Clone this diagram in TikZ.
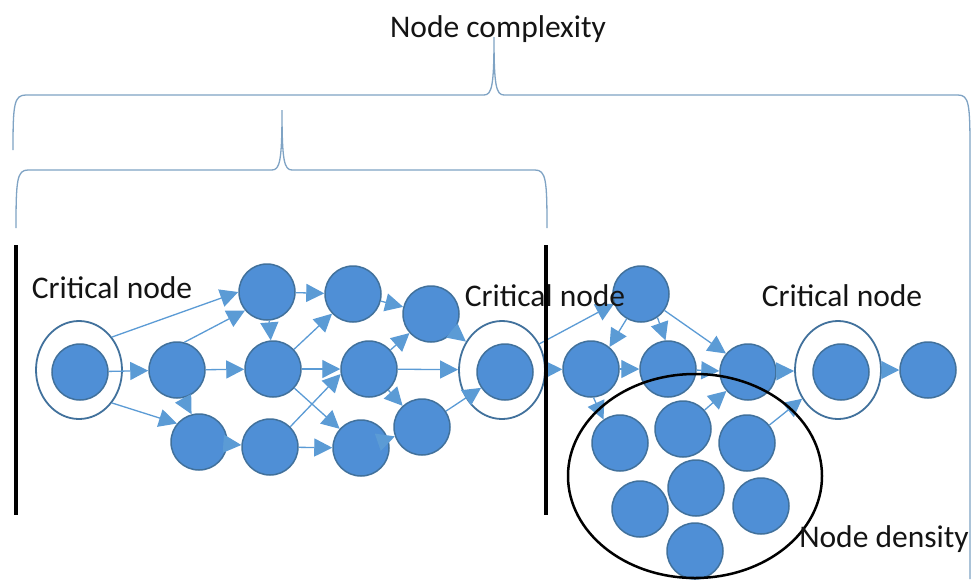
\documentclass[tikz,border=0pt]{standalone}
\usepackage{fontspec}
\setmainfont{Carlito}
\usetikzlibrary{arrows.meta,shapes.geometric}
\definecolor{nodefill}{HTML}{4F8FD6}
\definecolor{nodeedge}{HTML}{41719C}
\definecolor{linkcol}{HTML}{5B9BD5}
\definecolor{bracecol}{HTML}{7FA3C4}
\definecolor{txtcol}{HTML}{141414}

\begin{document}
\begin{tikzpicture}[x=1pt,y=-1pt,
  dot/.style={circle,draw=nodeedge,line width=1.5pt,fill=nodefill,minimum size=56pt,inner sep=0pt},
  ring/.style={ellipse,draw=nodeedge,line width=1.8pt,minimum width=86pt,minimum height=98pt,inner sep=0pt},
  link/.style={draw=linkcol,line width=1.3pt,-{Triangle[length=18pt,width=18pt]}},
  txt/.style={font=\fontsize{31.5}{31.5}\selectfont,anchor=base,text=txtcol,inner sep=0pt},
  brace/.style={draw=bracecol,line width=1.3pt},
  bar/.style={draw=black,line width=4pt}]

\fill[white] (0,0) rectangle (972,579);
\useasboundingbox (0,0) rectangle (972,579);

% braces
\draw[brace] (13,150) .. controls (13,104) and (14,95) .. (26,95)
  -- (484,95) .. controls (492,95) and (494,85) .. (494,37)
  .. controls (494,85) and (496,95) .. (504,95)
  -- (958,95) .. controls (969,95) and (970,104) .. (970,150) -- (970,579);
\draw[brace] (16,228) .. controls (16,180) and (17,170) .. (28,170)
  -- (272,170) .. controls (280,170) and (282,160) .. (282,110)
  .. controls (282,160) and (284,170) .. (292,170)
  -- (535,170) .. controls (546,170) and (547,180) .. (547,228);

% critical rings
\node[ring] (c1r) at (79,370) {};
\node[ring] (c2r) at (502,370) {};
\node[ring] (c3r) at (838,370) {};

% nodes
\node[dot] (c1) at (80,372) {};
\node[dot] (a) at (177,370) {};
\node[dot] (b) at (267,292) {};
\node[dot] (c) at (273,369) {};
\node[dot] (d) at (199,442) {};
\node[dot] (e) at (270,447) {};
\node[dot] (f) at (353,294) {};
\node[dot] (g) at (369,369) {};
\node[dot] (h) at (361,448) {};
\node[dot] (i) at (431,314) {};
\node[dot] (j) at (422,427) {};
\node[dot] (c2) at (505,372) {};
\node[dot] (k) at (591,369) {};
\node[dot] (t) at (641,294) {};
\node[dot] (l) at (668,369) {};
\node[dot] (m) at (748,372) {};
\node[dot] (c3) at (841,372) {};
\node[dot] (n) at (928,370) {};
\node[dot] (d1) at (620,443) {};
\node[dot] (d2) at (683,429) {};
\node[dot] (d3) at (747,443) {};
\node[dot] (d4) at (640,509) {};
\node[dot] (d5) at (696,488) {};
\node[dot] (d6) at (761,506) {};
\node[dot] (d7) at (695,551) {};

% connectors
\draw[link] (c1) -- (a);
\draw[link] (c1r.45) -- (b.west);
\draw[link] (c1r.-45) -- (d.140);
\draw[link] (a.75) -- (b.220);
\draw[link] (a) -- (c);
\draw[link] (a.-78) -- (d.105);
\draw[link] (d) -- (e);
\draw[link] (b) -- (c);
\draw[link] (b) -- (f);
\draw[link] (c) -- (f);
\draw[link] (c) -- (g);
\draw[link] (c) -- (h);
\draw[link] (e.45) -- (g.190);
\draw[link] (e) -- (h);
\draw[link] (f) -- (i);
\draw[link] (g) -- (i);
\draw[link] (g) -- (j);
\draw[link] (g) -- (c2r);
\draw[link] (h) -- (j);
\draw[link] (i) -- (c2r);
\draw[link] (j) -- (c2);
\draw[link] (c2r) -- (k);
\draw[link] (c2r.35) -- (t.200);
\draw[link] (t.240) -- (k.50);
\draw[link] (t.-55) -- (l.95);
\draw[link] (t.-35) -- (m.140);
\draw[link] (k) -- (l);
\draw[link] (l) -- (m);
\draw[link] (k.-85) -- (d1.125);
\draw[link] (d2) -- (m);
\draw[link] (m) -- (c3r);
\draw[link] (d3) -- (c3r);
\draw[link] (c3r) -- (n);

% density region
\draw[black,line width=2.5pt] (695,476) ellipse [x radius=127, y radius=102];

% labels
\node[txt] (title) at (498,37) {Node complexity};
\node[txt] (lab1) at (112,298) {Critical node};
\node[txt] (lab2) at (545,306) {Critical node};
\node[txt] (lab3) at (842,306) {Critical node};
\node[txt] (lab4) at (884,547) {Node density};

% section bars
\draw[bar] (16,245) -- (16,515);
\draw[bar] (546,245) -- (546,515);
\end{tikzpicture}
\end{document}
